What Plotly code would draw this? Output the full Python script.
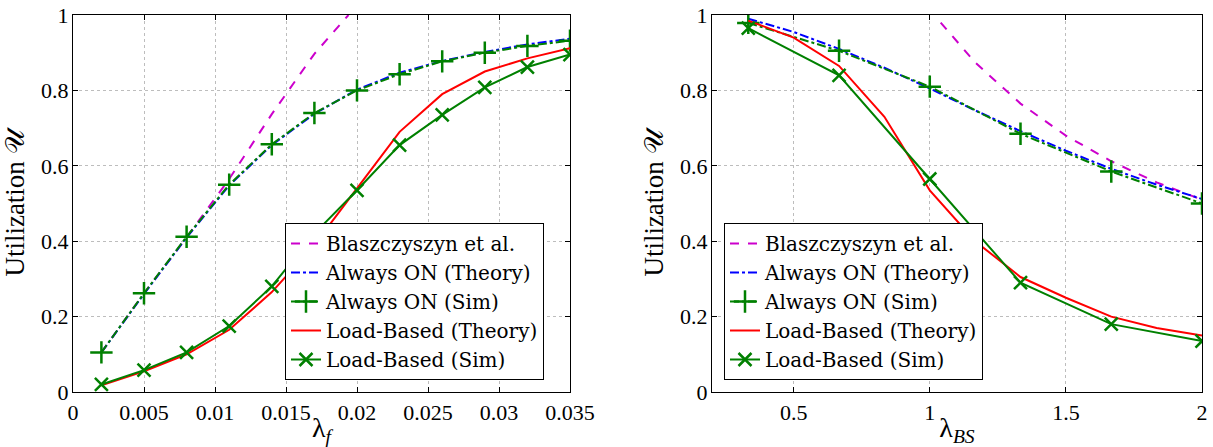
import plotly.graph_objects as go

# ---------------- Left panel data (x = lambda_f) ----------------
lf_sim = [0.002, 0.005, 0.008, 0.011, 0.014, 0.017, 0.020, 0.023, 0.026, 0.029, 0.032, 0.035]
lf_blasz = [0.002, 0.005, 0.008, 0.011, 0.014, 0.017, 0.0194]
blasz_left = [0.105, 0.262, 0.41, 0.565, 0.737, 0.897, 1.0]
aon_theory_left = [0.105, 0.26, 0.41, 0.548, 0.655, 0.738, 0.802, 0.847, 0.878, 0.902, 0.922, 0.937]
aon_sim_left = [0.105, 0.262, 0.412, 0.55, 0.657, 0.74, 0.80, 0.843, 0.877, 0.90, 0.918, 0.932]
lb_theory_left = [0.018, 0.055, 0.10, 0.165, 0.265, 0.39, 0.54, 0.69, 0.79, 0.85, 0.885, 0.912]
lb_sim_left = [0.02, 0.058, 0.105, 0.175, 0.28, 0.42, 0.535, 0.655, 0.735, 0.808, 0.862, 0.895]

# ---------------- Right panel data (x = lambda_BS) ----------------
lbs_theory = [0.3333, 0.5, 0.6667, 0.8333, 1.0, 1.1667, 1.3333, 1.5, 1.6667, 1.8333, 2.0]
lbs_sim = [0.3333, 0.6667, 1.0, 1.3333, 1.6667, 2.0]
lbs_blasz = [1.04, 1.1667, 1.3333, 1.5, 1.6667, 1.8333, 2.0]
blasz_right = [0.98, 0.874, 0.765, 0.68, 0.612, 0.556, 0.51]
aon_theory_right = [0.99, 0.955, 0.91, 0.86, 0.805, 0.747, 0.692, 0.64, 0.592, 0.55, 0.512]
aon_sim_right = [0.979, 0.905, 0.81, 0.685, 0.585, 0.50]
lb_theory_right = [0.985, 0.94, 0.865, 0.73, 0.535, 0.40, 0.305, 0.25, 0.20, 0.17, 0.15]
lb_sim_right = [0.965, 0.84, 0.565, 0.29, 0.18, 0.135]

x_ticks_left = [0, 0.005, 0.01, 0.015, 0.02, 0.025, 0.03, 0.035]
x_ticklabels_left = ["0", "0.005", "0.01", "0.015", "0.02", "0.025", "0.03", "0.035"]
x_ticks_right = [0.5, 1, 1.5, 2]
x_ticklabels_right = ["0.5", "1", "1.5", "2"]
y_ticks = [0, 0.2, 0.4, 0.6, 0.8, 1]
y_ticklabels = ["0", "0.2", "0.4", "0.6", "0.8", "1"]

names = ["Blaszczyszyn et al.", "Always ON (Theory)", "Always ON (Sim)",
         "Load-Based (Theory)", "Load-Based (Sim)"]

MAG = "#cc00cc"
BLUE = "#0000ff"
GREEN = "#008000"
RED = "#ff0000"
FONT = "'Liberation Serif', 'DejaVu Serif', serif"
LFONT = "'DejaVu Serif', serif"

fig = go.Figure()


def add_panel(xa, ya, leg, blz, aont, aons, lbt, lbs):
    fig.add_trace(go.Scatter(x=blz[0], y=blz[1], mode="lines", name=names[0], legend=leg,
                             line=dict(color=MAG, width=2, dash="dash"), xaxis=xa, yaxis=ya))
    fig.add_trace(go.Scatter(x=aont[0], y=aont[1], mode="lines", name=names[1], legend=leg,
                             line=dict(color=BLUE, width=2, dash="dashdot"), xaxis=xa, yaxis=ya))
    fig.add_trace(go.Scatter(x=aons[0], y=aons[1], mode="lines+markers", name=names[2], legend=leg,
                             line=dict(color=GREEN, width=2, dash="dashdot"),
                             marker=dict(symbol="cross-thin", size=16, line=dict(color=GREEN, width=2.5)),
                             xaxis=xa, yaxis=ya))
    fig.add_trace(go.Scatter(x=lbt[0], y=lbt[1], mode="lines", name=names[3], legend=leg,
                             line=dict(color=RED, width=2), xaxis=xa, yaxis=ya))
    fig.add_trace(go.Scatter(x=lbs[0], y=lbs[1], mode="lines+markers", name=names[4], legend=leg,
                             line=dict(color=GREEN, width=2),
                             marker=dict(symbol="x-thin", size=13, line=dict(color=GREEN, width=2.5)),
                             xaxis=xa, yaxis=ya))


add_panel("x", "y", "legend", (lf_blasz, blasz_left), (lf_sim, aon_theory_left),
          (lf_sim, aon_sim_left), (lf_sim, lb_theory_left), (lf_sim, lb_sim_left))
add_panel("x2", "y2", "legend2", (lbs_blasz, blasz_right), (lbs_theory, aon_theory_right),
          (lbs_sim, aon_sim_right), (lbs_theory, lb_theory_right), (lbs_sim, lb_sim_right))

W, H = 1213, 447
ytop, ybot = 1 - 15 / H, 1 - 392 / H

axis_common = dict(showline=True, linecolor="black", linewidth=1, mirror="ticks",
                   ticks="inside", ticklen=5, tickcolor="black", automargin=False,
                   showgrid=True, gridcolor="#bdbdbd", griddash="dot", gridwidth=1,
                   zeroline=False, tickfont=dict(family=FONT, size=22, color="black"))

legend_common = dict(xanchor="left", yanchor="top", bgcolor="white", bordercolor="black",
                     borderwidth=1, font=dict(family=LFONT, size=20, color="black"),
                     tracegroupgap=0, itemwidth=30)

title_font = dict(family=FONT, size=27, color="black")

fig.update_layout(
    width=W, height=H, margin=dict(l=0, r=0, t=0, b=0, autoexpand=False),
    paper_bgcolor="white", plot_bgcolor="white",
    xaxis=dict(domain=[73 / W, 570 / W], range=[0, 0.035], tickvals=x_ticks_left,
               ticktext=x_ticklabels_left, anchor="y", ticklabelstandoff=1,
               title=dict(text="λ<sub><i>f</i></sub>", font=dict(family=FONT, size=28, color="black"), standoff=0),
               **axis_common),
    yaxis=dict(domain=[ybot, ytop], range=[0, 1], tickvals=y_ticks, ticktext=y_ticklabels, anchor="x",
               ticklabelstandoff=-1,
               title=dict(text="Utilization 𝒰", font=title_font, standoff=8),
               **axis_common),
    xaxis2=dict(domain=[712 / W, 1202 / W], range=[0.2, 2], tickvals=x_ticks_right,
                ticktext=x_ticklabels_right, anchor="y2", ticklabelstandoff=1,
                title=dict(text="λ<sub><i>BS</i></sub>", font=dict(family=FONT, size=28, color="black"), standoff=0),
                **axis_common),
    yaxis2=dict(domain=[ybot, ytop], range=[0, 1], tickvals=y_ticks, ticktext=y_ticklabels, anchor="x2",
                ticklabelstandoff=-1,
                title=dict(text="Utilization 𝒰", font=title_font, standoff=8),
                **axis_common),
    legend=dict(x=285 / W, y=1 - 223 / H, **legend_common),
    legend2=dict(x=724 / W, y=1 - 223 / H, **legend_common),
)

fig.write_html("out.html")
